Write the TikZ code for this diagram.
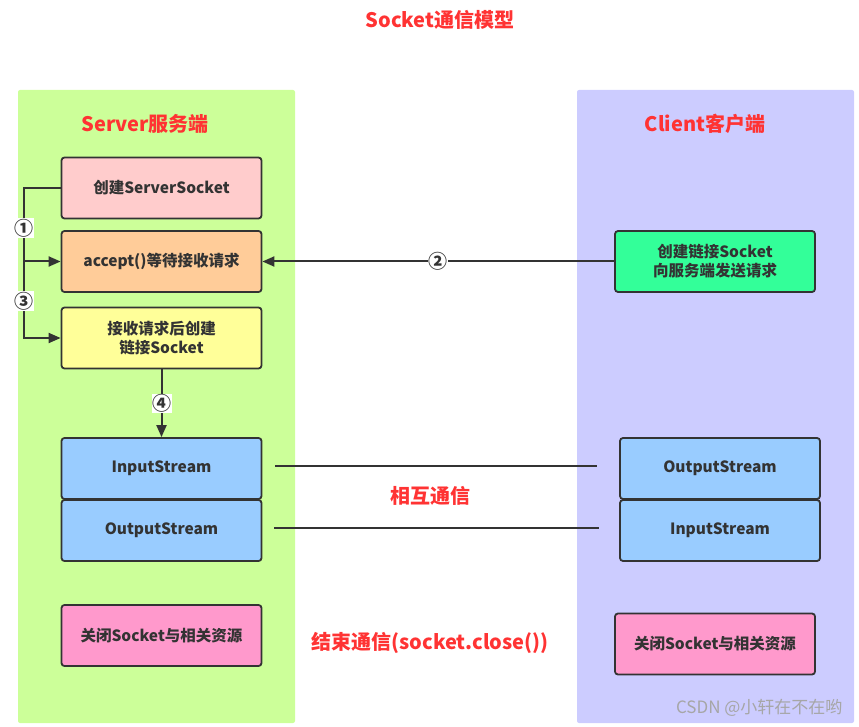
\documentclass[tikz,border=0pt]{standalone}
\usepackage{fontspec}
\setmainfont{Noto Sans CJK SC}
\usetikzlibrary{arrows.meta}
\definecolor{titlered}{HTML}{FF3333}
\definecolor{serverbg}{HTML}{CCFF99}
\definecolor{clientbg}{HTML}{CCCCFF}
\definecolor{linegray}{HTML}{333333}
\definecolor{createfill}{HTML}{FFCCCC}
\definecolor{acceptfill}{HTML}{FFCC99}
\definecolor{linkfill}{HTML}{FFFF99}
\definecolor{streamfill}{HTML}{99CCFF}
\definecolor{closefill}{HTML}{FF99CC}
\definecolor{requestfill}{HTML}{33FF99}
\begin{document}
\begin{tikzpicture}[x=1pt,y=-1pt,
    box/.style={draw=linegray,line width=1.8pt,rounded corners=3pt,
      minimum width=200pt,minimum height=61pt,align=center,text=linegray,
      font=\bfseries\fontsize{15.5}{19}\selectfont},
    head/.style={text=titlered,font=\bfseries\fontsize{20}{24}\selectfont},
    num/.style={fill=white,inner sep=0.5pt,text=linegray,
      font=\bfseries\fontsize{19}{19}\selectfont},
    link/.style={draw=linegray,line width=2pt},
    arrow/.style={link,-{Triangle[length=12pt,width=10pt]}}]
      \useasboundingbox (0,0) rectangle (859,727);
      \fill[serverbg,rounded corners=2pt] (18,90) rectangle (295,723);
      \fill[clientbg,rounded corners=2pt] (577,90) rectangle (854,723);
      \draw
        (440,20) node[head] (title){Socket通信模型}
        (145,124) node[head] (server){Server服务端}
        (705,124) node[head] (client){Client客户端}
        (161.5,188) node[box,fill=createfill] (create){创建ServerSocket}
        (161.5,261.5) node[box,fill=acceptfill] (accept){accept()等待接收请求}
        (161.5,338) node[box,fill=linkfill] (link){接收请求后创建\\链接Socket}
        (161.5,468.5) node[box,fill=streamfill] (inL){InputStream}
        (161.5,530.5) node[box,fill=streamfill] (outL){OutputStream}
        (161.5,635.5) node[box,fill=closefill] (closeL){关闭Socket与相关资源}
        (715,261.5) node[box,fill=requestfill] (request){创建链接Socket\\向服务端发送请求}
        (720,468.5) node[box,fill=streamfill] (outR){OutputStream}
        (720,530.5) node[box,fill=streamfill] (inR){InputStream}
        (715,644) node[box,fill=closefill] (closeR){关闭Socket与相关资源}
        (430,496) node[head] (talk){相互通信}
        (430,643) node[head] (finish){结束通信(socket.close())};
      \coordinate (split) at (24,261.5);
      \begin{scope}[link]
        \draw (create.west) -| (split);
        \draw[arrow] (split) -- (accept.west);
        \draw[arrow] (split) |- (link.west);
        \draw[arrow] (request.west) -- node[num] (two){②} (accept.east);
        \draw[arrow] (link.south) -- node[num] (four){④} (inL.north);
        \draw ([shift={(13,-3)}]inL.east) -- ([shift={(-22,-3)}]outR.west);
        \draw ([shift={(12,-3)}]outL.east) -- ([shift={(-20,-3)}]inR.west);
      \end{scope}
      \node[num] (one) at (24,228) {①};
      \node[num] (three) at (24,301) {③};
      \node[anchor=east,text=gray!70,font=\fontsize{17}{17}\selectfont]
        (mark) at (846,708) {CSDN @小轩在不在哟};
    \end{tikzpicture}
\end{document}
